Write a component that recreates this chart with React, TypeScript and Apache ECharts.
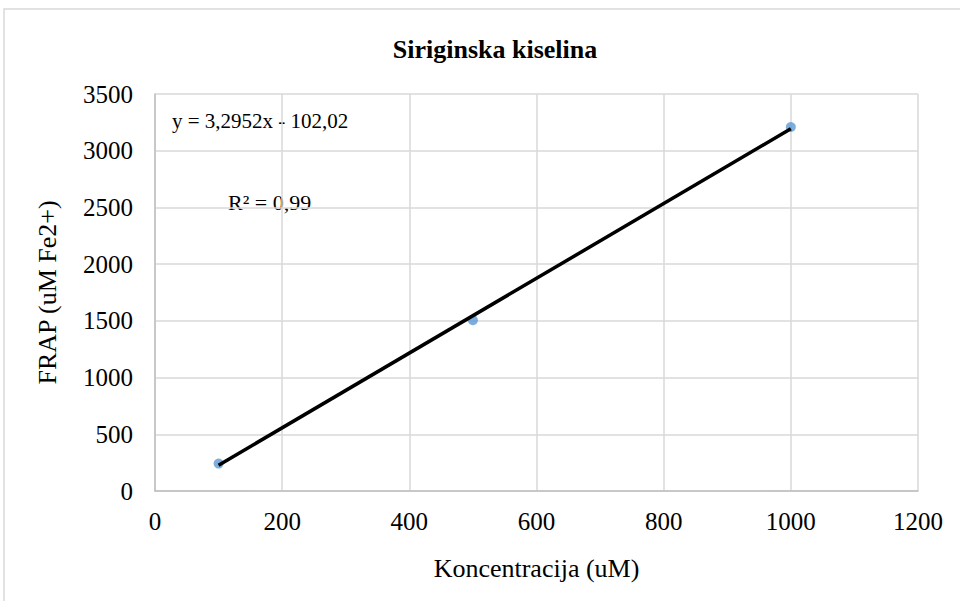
import React, { useEffect, useRef } from "react";
import * as echarts from "echarts";

const concentrations = [100, 500, 1000];
const frapValues = [242, 1506, 3209];
const slope = 3.2952;
const intercept = -102.02;
const trendX = [100, 1000];
const title = "Siriginska kiselina";
const xName = "Koncentracija (uM)";
const yName = "FRAP (uM Fe2+)";
const eqText = "y = 3,2952x - 102,02";
const r2Text = "R² = 0,99";

export default function App() {
  const ref = useRef<HTMLDivElement>(null);
  useEffect(() => {
    document.body.style.margin = "0";
    if (!ref.current) return;
    const chart = echarts.init(ref.current, null, { renderer: "svg" });
    const font = "Liberation Serif";
    chart.setOption({
      animation: false,
      backgroundColor: "#ffffff",
      textStyle: { fontFamily: font },
      title: {
        text: title,
        left: 490,
        top: 31,
        textAlign: "center",
        textStyle: { fontFamily: font, fontSize: 26, fontWeight: "bold", color: "#000" },
      },
      grid: { left: 155, right: 42, top: 94, bottom: 110 },
      xAxis: {
        type: "value",
        min: 0,
        max: 1200,
        interval: 200,
        name: xName,
        nameLocation: "middle",
        nameGap: 64,
        nameMoveOverlap: false,
        nameTextStyle: { fontFamily: font, fontSize: 26, color: "#000" },
        axisLine: { show: true, lineStyle: { color: "#bfbfbf", width: 1.5 } },
        axisTick: { show: false },
        axisLabel: { fontFamily: font, fontSize: 25, color: "#000", margin: 18, formatter: (v: number) => String(v) },
        splitLine: { show: true, lineStyle: { color: "#d9d9d9", width: 1.5 } },
      },
      yAxis: {
        type: "value",
        min: 0,
        max: 3500,
        interval: 500,
        name: yName,
        nameLocation: "middle",
        nameGap: 95,
        nameMoveOverlap: false,
        nameTextStyle: { fontFamily: font, fontSize: 26, color: "#000" },
        axisLine: { show: true, lineStyle: { color: "#bfbfbf", width: 1.5 } },
        axisTick: { show: false },
        axisLabel: { fontFamily: font, fontSize: 25, color: "#000", margin: 22, formatter: (v: number) => String(v) },
        splitLine: { show: true, lineStyle: { color: "#d9d9d9", width: 1.5 } },
      },
      graphic: [
        {
          type: "rect",
          shape: { x: 4, y: 9, width: 1000, height: 700 },
          style: { fill: "none", stroke: "#d9d9d9", lineWidth: 1.5 },
          silent: true,
          z: -10,
        },
        {
          type: "text",
          left: 172,
          top: 110,
          style: { text: eqText, fontFamily: font, fontSize: 21, fill: "#000" },
        },
        {
          type: "text",
          left: 228,
          top: 191,
          style: { text: r2Text, fontFamily: font, fontSize: 22, fill: "#000" },
        },
      ],
      series: [
        {
          type: "scatter",
          data: concentrations.map((x, i) => [x, frapValues[i]]),
          symbol: "circle",
          symbolSize: 10,
          itemStyle: { color: "#5b9bd5" },
          z: 2,
        },
        {
          type: "line",
          data: trendX.map((x) => [x, slope * x + intercept]),
          symbol: "none",
          lineStyle: { color: "#000", width: 3.5 },
          z: 3,
        },
      ],
    });
    return () => chart.dispose();
  }, []);
  return <div ref={ref} style={{ width: 960, height: 601 }} />;
}
